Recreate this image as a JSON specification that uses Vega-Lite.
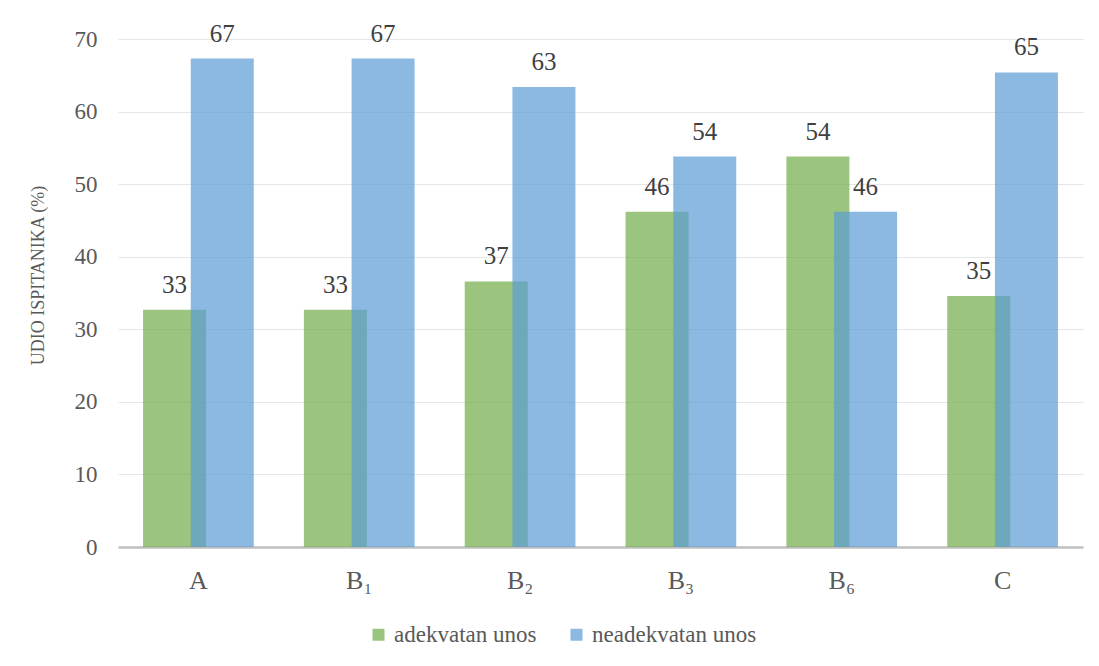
{
  "$schema": "https://vega.github.io/schema/vega-lite/v6.json",
  "width": 965,
  "height": 508,
  "autosize": {"type": "none"},
  "padding": {"left": 118, "top": 39, "right": 16, "bottom": 119},
  "background": "white",
  "config": {
    "font": "Liberation Serif",
    "view": {"stroke": null},
    "axis": {"labelFont": "Liberation Serif", "titleFont": "Liberation Serif"},
    "legend": {"labelFont": "Liberation Serif"},
    "text": {"font": "Liberation Serif"}
  },
  "data": {
    "values": [
      {"grupa": "A", "serija": "adekvatan unos", "udio": 32.7},
      {"grupa": "A", "serija": "neadekvatan unos", "udio": 67.3},
      {"grupa": "B₁", "serija": "adekvatan unos", "udio": 32.7},
      {"grupa": "B₁", "serija": "neadekvatan unos", "udio": 67.3},
      {"grupa": "B₂", "serija": "adekvatan unos", "udio": 36.6},
      {"grupa": "B₂", "serija": "neadekvatan unos", "udio": 63.4},
      {"grupa": "B₃", "serija": "adekvatan unos", "udio": 46.2},
      {"grupa": "B₃", "serija": "neadekvatan unos", "udio": 53.8},
      {"grupa": "B₆", "serija": "adekvatan unos", "udio": 53.8},
      {"grupa": "B₆", "serija": "neadekvatan unos", "udio": 46.2},
      {"grupa": "C", "serija": "adekvatan unos", "udio": 34.6},
      {"grupa": "C", "serija": "neadekvatan unos", "udio": 65.4}
    ]
  },
  "encoding": {
    "x": {
      "field": "grupa",
      "type": "nominal",
      "sort": null,
      "scale": {"paddingInner": 0, "paddingOuter": 0},
      "axis": {
        "title": null,
        "labelAngle": 0,
        "labelFontSize": 26,
        "labelColor": "#595959",
        "labelPadding": 20,
        "ticks": false,
        "domainColor": "#BFBFBF",
        "domainWidth": 2.5,
        "grid": false
      }
    },
    "xOffset": {
      "field": "serija",
      "type": "nominal",
      "scale": {"paddingInner": 0, "paddingOuter": 0.686}
    },
    "y": {
      "field": "udio",
      "type": "quantitative",
      "scale": {"domain": [0, 70], "nice": false},
      "axis": {
        "title": "UDIO ISPITANIKA (%)",
        "titleFontSize": 18,
        "titleFontWeight": "normal",
        "titleColor": "#595959",
        "titlePadding": 27,
        "titleY": 236,
        "values": [0, 10, 20, 30, 40, 50, 60, 70],
        "labelFontSize": 23,
        "labelColor": "#595959",
        "labelPadding": 21,
        "ticks": false,
        "domain": false,
        "gridColor": "#E6E6E6",
        "gridWidth": 1.2
      }
    }
  },
  "layer": [
    {
      "mark": {"type": "bar", "width": 63, "opacity": 0.7},
      "encoding": {
        "color": {
          "field": "serija",
          "type": "nominal",
          "scale": {"domain": ["adekvatan unos", "neadekvatan unos"], "range": ["#70AD47", "#5B9BD5"]},
          "legend": {
            "title": null,
            "orient": "none",
            "legendX": 249,
            "legendY": 584,
            "direction": "horizontal",
            "symbolType": "square",
            "symbolSize": 144,
            "symbolOpacity": 0.7,
            "symbolStrokeWidth": 0,
            "labelFontSize": 23,
            "labelLimit": 400,
            "labelColor": "#595959",
            "columnPadding": 28,
            "labelOffset": 4
          }
        }
      }
    },
    {
      "mark": {"type": "text", "baseline": "alphabetic", "dy": -17, "fontSize": 25, "color": "#404040"},
      "encoding": {
        "text": {"field": "udio", "type": "quantitative", "format": ".0f"}
      }
    }
  ]
}
